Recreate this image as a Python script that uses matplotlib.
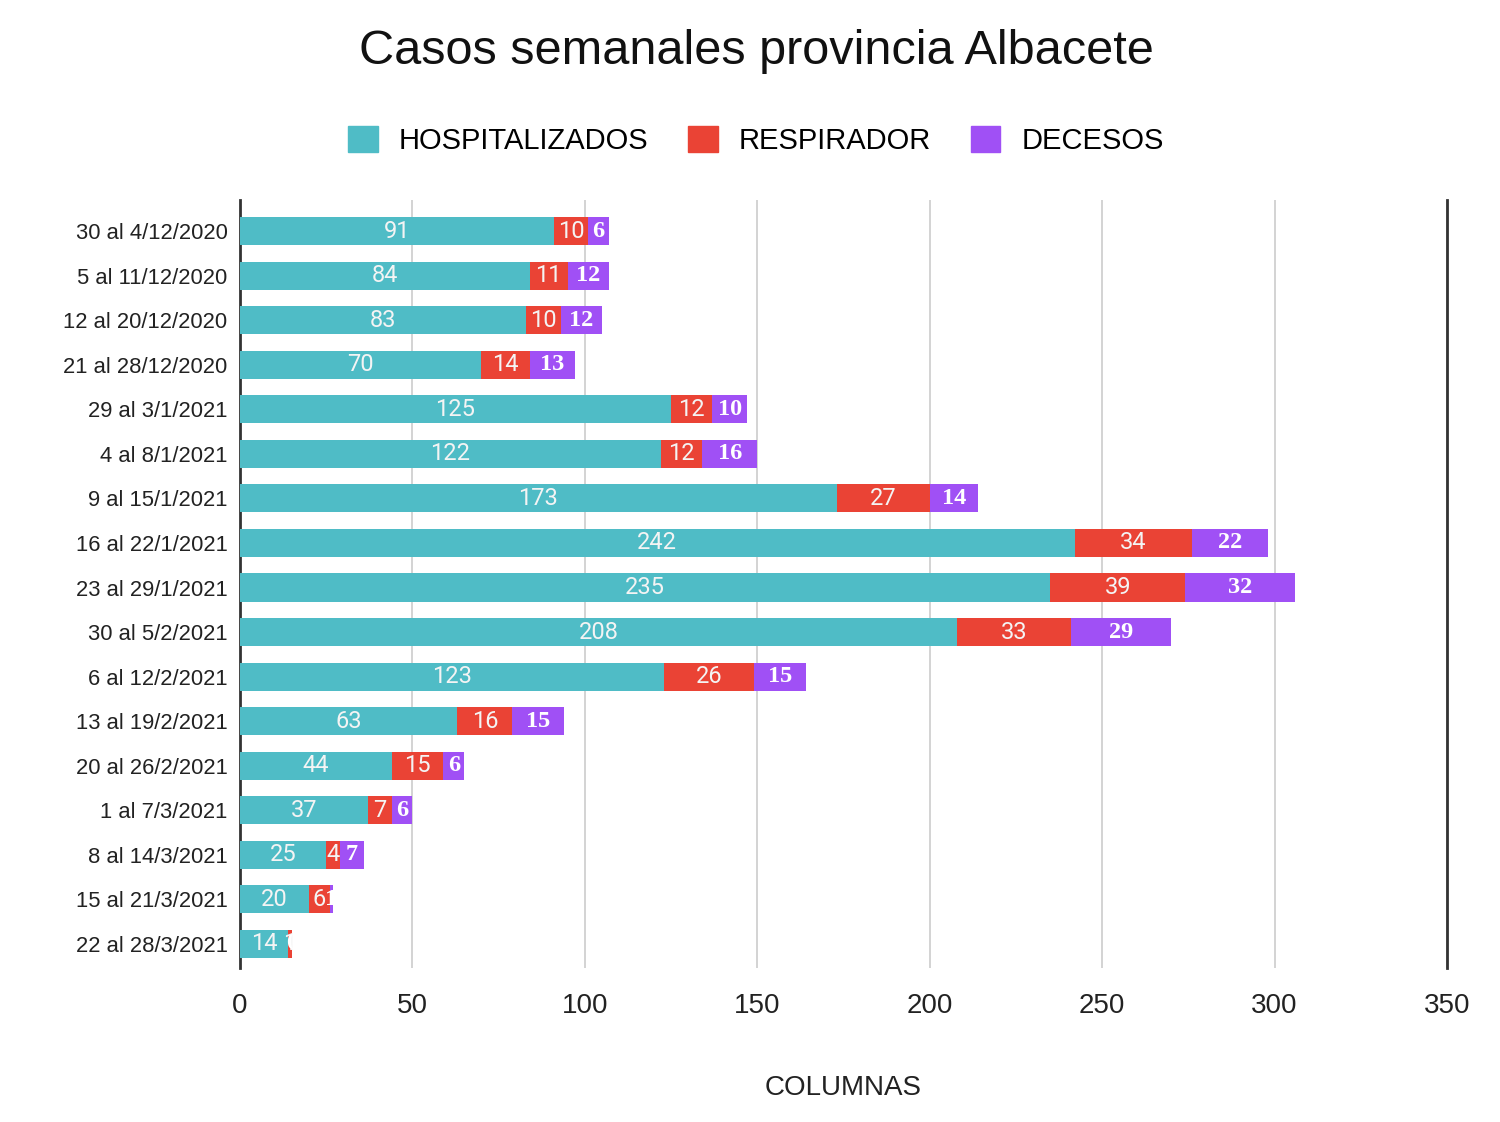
import matplotlib
matplotlib.use("Agg")
import matplotlib.pyplot as plt
from matplotlib.patches import Patch

categories = ["30 al 4/12/2020", "5 al 11/12/2020", "12 al 20/12/2020", "21 al 28/12/2020",
              "29 al 3/1/2021", "4 al 8/1/2021", "9 al 15/1/2021", "16 al 22/1/2021",
              "23 al 29/1/2021", "30 al 5/2/2021", "6 al 12/2/2021", "13 al 19/2/2021",
              "20 al 26/2/2021", "1 al 7/3/2021", "8 al 14/3/2021", "15 al 21/3/2021",
              "22 al 28/3/2021"]
hospitalizados = [91, 84, 83, 70, 125, 122, 173, 242, 235, 208, 123, 63, 44, 37, 25, 20, 14]
respirador = [10, 11, 10, 14, 12, 12, 27, 34, 39, 33, 26, 16, 15, 7, 4, 6, 1]
decesos = [6, 12, 12, 13, 10, 16, 14, 22, 32, 29, 15, 15, 6, 6, 7, 1, 0]
series_names = ["HOSPITALIZADOS", "RESPIRADOR", "DECESOS"]
colors = ["#4fbcc6", "#ea4335", "#a050f5"]
xticks = [0, 50, 100, 150, 200, 250, 300, 350]

plt.rcParams['font.family'] = ['Liberation Sans', 'DejaVu Sans']

fig = plt.figure(figsize=(15, 11.22), dpi=100)
ax = fig.add_axes([0.16, 0.1373, 0.8047, 0.6845])

y = list(range(len(categories)))
h = 0.63
left = [0] * len(categories)
for name, vals, col in zip(series_names, [hospitalizados, respirador, decesos], colors):
    bars = ax.barh(y, vals, left=left, height=h, color=col, label=name, zorder=3)
    for i, v in enumerate(vals):
        cx = left[i] + v / 2
        if name == "DECESOS":
            ax.text(cx, i, str(v), ha="center", va="center", color="white",
                    fontsize=17.5, family=["Liberation Serif", "DejaVu Serif"],
                    fontweight="bold", zorder=4)
        else:
            ax.text(cx, i, str(v), ha="center", va="center", color="#f4f4f4",
                    fontsize=17, family=["Roboto", "DejaVu Sans"], zorder=4)
    left = [l + v for l, v in zip(left, vals)]

ax.set_xlim(0, 350)
ax.set_ylim(16.54, -0.70)
ax.set_yticks(y)
ax.set_yticklabels(categories, fontsize=15.8, color="#222222")
ax.set_xticks(xticks)
ax.set_xticklabels([str(t) for t in xticks], fontsize=20, color="#222222")
ax.tick_params(axis="y", length=0, pad=9)
ax.tick_params(axis="x", length=0, pad=18)
ax.grid(axis="x", color="#cccccc", linewidth=1.2, zorder=0)
for s in ["top", "bottom"]:
    ax.spines[s].set_visible(False)
ax.spines["left"].set_color("#333333")
ax.spines["left"].set_linewidth(2)
ax.spines["right"].set_color("#333333")
ax.spines["right"].set_linewidth(2)

fig.text(0.5623, 1 - 1088 / 1122, "COLUMNAS", ha="center", va="center", fontsize=20, color="#222222")

fig.suptitle("Casos semanales provincia Albacete", fontsize=35, x=0.504, y=1 - 52 / 1122,
             va="center", color="#111111")

handles = [Patch(facecolor=c, edgecolor=c, label=n) for n, c in zip(series_names, colors)]
fig.legend(handles=handles, loc="center", bbox_to_anchor=(0.504, 0.875), ncol=3, frameon=False,
           fontsize=21, handlelength=1.0, handleheight=1.0, handletextpad=0.72, columnspacing=1.38)

fig.savefig("out.png", dpi=100, facecolor="white")
